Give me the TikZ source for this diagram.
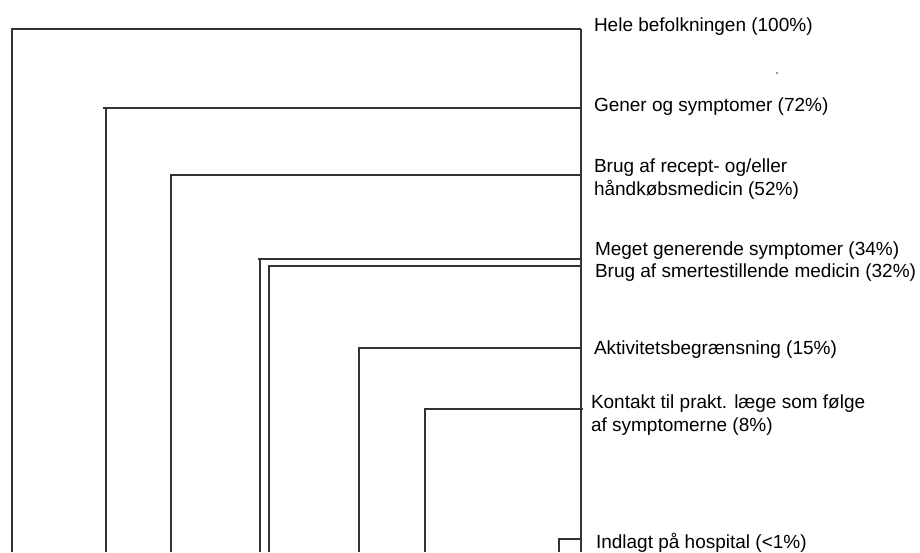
\documentclass[tikz,border=0pt]{standalone}
\usepackage{fontspec}
\setmainfont{Liberation Sans}
\begin{document}
\begin{tikzpicture}[x=1pt,y=-1pt,
  conn/.style={draw=black!80,line width=1.3pt,line join=miter},
  lbl/.style={anchor=base west,inner sep=0pt,outer sep=0pt,font=\fontsize{19}{23}\selectfont}]
\useasboundingbox (0,0) rectangle (920,552);
% spine
\coordinate (spinetop) at (581,29);
\coordinate (spinebot) at (581,552);
\draw[conn] (spinetop) -- (spinebot);
% level corners and feet
\coordinate (f1) at (12,552);   \coordinate (r1) at (581,29);
\coordinate (f2) at (106,552);  \coordinate (c2) at (106,108); \coordinate (s2) at (103,108); \coordinate (r2) at (581,108);
\coordinate (f3) at (171,552);  \coordinate (r3) at (581,175);
\coordinate (f4) at (260,552);  \coordinate (c4) at (260,259); \coordinate (s4) at (258,259); \coordinate (r4) at (581,259);
\coordinate (f5) at (269,552);  \coordinate (r5) at (581,266);
\coordinate (f6) at (359,552);  \coordinate (r6) at (581,348);
\coordinate (f7) at (425,552);  \coordinate (r7) at (583,409);
\coordinate (f8) at (559,552);  \coordinate (r8) at (581,539);
\draw[conn] (f1) |- (r1);
\draw[conn] (f2) -- (c2);
\draw[conn] (s2) -- (r2);
\draw[conn] (f3) |- (r3);
\draw[conn] (f4) -- (c4);
\draw[conn] (s4) -- (r4);
\draw[conn] (f5) |- (r5);
\draw[conn] (f6) |- (r6);
\draw[conn] (f7) |- (r7);
\draw[conn] (f8) |- (r8);
% labels
\node[lbl] (l1) at (594,31.5) {Hele befolkningen (100\%)};
\node[lbl] (l2) at (594,111.7) {Gener og symptomer (72\%)};
\node[lbl] (l3) at (594,172.3) {\vtop{\hbox{Brug af recept- og/eller}\hbox{håndkøbsmedicin (52\%)}}};
\node[lbl] (l4) at (595,255) {Meget generende symptomer (34\%)};
\node[lbl] (l5) at (595,277.7) {Brug af smertestillende medicin (32\%)};
\node[lbl] (l6) at (594,354) {Aktivitetsbegrænsning (15\%)};
\node[lbl] (l7) at (591,408) {\vtop{\hbox{Kontakt til prakt. læge som følge}\hbox{af symptomerne (8\%)}}};
\node[lbl] (l8) at (596,548.3) {Indlagt på hospital (<1\%)};
\node[circle,fill=black!80,inner sep=0pt,minimum size=1.6pt] (dot) at (777,73) {};
\end{tikzpicture}
\end{document}
